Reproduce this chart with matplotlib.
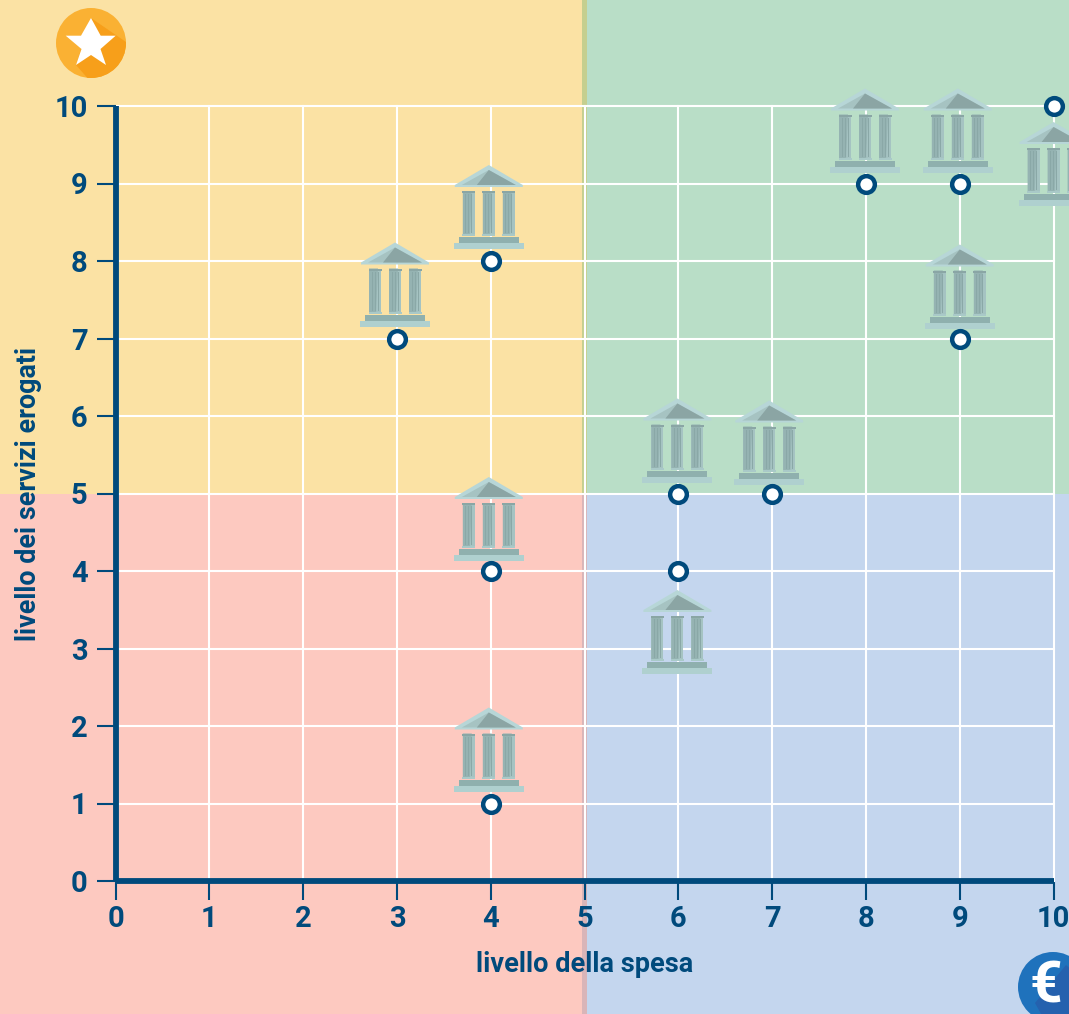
#!/usr/bin/env python3
# -*- coding: utf-8 -*-
import matplotlib
matplotlib.use("Agg")
import matplotlib.pyplot as plt
from matplotlib.patches import Rectangle, Polygon, Circle
from matplotlib.transforms import Affine2D, ScaledTranslation

# data
spesa = [3, 4, 4, 4, 6, 7, 6, 8, 9, 9, 10]
servizi = [7, 8, 4, 1, 5, 5, 4, 9, 9, 7, 10]
ticks = [0, 1, 2, 3, 4, 5, 6, 7, 8, 9, 10]
x_title = "livello della spesa"
y_title = "livello dei servizi erogati"

# where each icon sits relative to its point, in pixels
icon_dx = [-2, -2, -2, -2, -1, -3, -1, -1, -2, 0, 0]
icon_dy = [12, 12, 10, 12, 11, 9, -103, 11, 11, 10, -100]

W, H = 1069, 1014
NAVY = "#004A7C"
plt.rcParams["font.family"] = ["Roboto", "DejaVu Sans"]
plt.rcParams["font.weight"] = "bold"

fig = plt.figure(figsize=(W / 100, H / 100), dpi=100)
ax = fig.add_axes([115.6 / W, (H - 881) / H, 938 / W, 775 / H])
ax.set_xlim(0, 10)
ax.set_ylim(0, 10)
ax.patch.set_visible(False)

# pixel coordinates with the origin top left
px = Affine2D().scale(1, -1).translate(0, H)

# coloured quadrants
for x0, y0, w, h, col in [
    (0, 0, 585, 494, "#FBE2A4"),
    (585, 0, W - 585, 494, "#B9DEC7"),
    (0, 494, 585, H - 494, "#FDC9C0"),
    (585, 494, W - 585, H - 494, "#C4D6EE"),
    (582, 0, 5, 494, "#C5CF8F"),
    (582, 494, 5, H - 494, "#D9B5B8"),
]:
    fig.add_artist(Rectangle((x0, y0), w, h, transform=px, fc=col, ec="none", zorder=-2))

# grid and axes
ax.set_xticks(ticks)
ax.set_yticks(ticks)
ax.grid(True, color="white", linewidth=1.5, zorder=1)
ax.set_axisbelow(True)
for line in ax.get_xgridlines() + ax.get_ygridlines():
    line.set_clip_on(False)
for side in ["top", "right"]:
    ax.spines[side].set_visible(False)
for side in ["left", "bottom"]:
    ax.spines[side].set_linewidth(4.2)
    ax.spines[side].set_color(NAVY)
    ax.spines[side].set_zorder(2)
    ax.spines[side].set_capstyle("butt")
ax.tick_params(axis="both", length=13.7, width=1.5, color=NAVY, labelcolor=NAVY, labelsize=21)
ax.tick_params(axis="x", pad=3.5)
ax.tick_params(axis="y", pad=6.5)
ax.set_xlabel(x_title, fontsize=19.5, color=NAVY, fontweight="bold", va="center")
ax.set_ylabel(y_title, fontsize=19.4, color=NAVY, fontweight="bold", va="center")
ax.xaxis.set_label_coords(0.5, -(965 - 881) / 775)
ax.yaxis.set_label_coords((29 - 116) / 938, 0.5)


def draw_icon(x, y, dx, dy):
    """Temple icon; local pixels from the middle of the base, y upwards."""
    tr = Affine2D().translate(dx, dy) + ScaledTranslation(x, y, ax.transData)

    def poly(points, col):
        ax.add_patch(Polygon(points, closed=True, transform=tr, fc=col, ec="none",
                             zorder=3, clip_on=False))

    # roof
    poly([(-34, 62), (-34, 64), (0, 84), (34, 64), (34, 62)], "#B7D6D7")
    poly([(-27, 64), (0, 79), (27, 64)], "#A6C3C2")
    poly([(-12, 64), (0, 79), (27, 64)], "#8BA5A4")
    # columns
    for cx in (-20, 0, 20):
        poly([(cx - 6, 13), (cx - 6, 58), (cx + 6, 58), (cx + 6, 13)], "#A5C3C2")
        poly([(cx - 6, 13), (cx - 6, 58), (cx + 3, 58), (cx + 1, 13)], "#95B3B2")
        for sx in (-3, 0, 3):
            poly([(cx + sx - 0.5, 16), (cx + sx - 0.5, 55), (cx + sx + 0.5, 55), (cx + sx + 0.5, 16)],
                 "#8AA8A7")
        poly([(cx - 6.5, 56), (cx - 6.5, 58), (cx + 6.5, 58), (cx + 6.5, 56)], "#8AA6A5")
        poly([(cx - 6.5, 13), (cx - 6.5, 15), (cx + 6.5, 15), (cx + 6.5, 13)], "#A9C9C8")
    # steps
    poly([(-30, 6), (-30, 12), (30, 12), (30, 6)], "#8FB0AE")
    poly([(-35, 0), (-35, 6), (35, 6), (35, 0)], "#AFD0CF")


for xi, yi, dxi, dyi in zip(spesa, servizi, icon_dx, icon_dy):
    draw_icon(xi, yi, dxi, dyi)

ax.scatter(spesa, servizi, s=145, facecolor="white", edgecolor=NAVY, linewidth=3.2,
           zorder=4, clip_on=False)

# star badge
fig.add_artist(Circle((91, 43), 35, transform=px, fc="#FAB133", ec="none", zorder=5))
shadow = Polygon([(91, 18), (126, 42), (126, 90), (91, 82), (76, 65)], closed=True,
                 transform=px, fc="#F79F1A", ec="none", zorder=6)
fig.add_artist(shadow)
shadow.set_clip_path(Circle((91, 43), 35, transform=px))
fig.add_artist(Polygon([(91, 18), (100.7, 35.7), (115.7, 35.7), (100.5, 49), (106, 65), (91, 55),
                        (76, 65), (81.5, 49), (65.7, 35.7), (81, 35.7)], closed=True,
                       transform=px, fc="white", ec="none", zorder=7))

# euro badge
fig.add_artist(Circle((1053, 987), 35, transform=px, fc="#1F72BC", ec="none", zorder=5))
euro_shadow = Polygon([(1066, 965), (1090, 985), (1090, 1030), (1050, 1030), (1035, 1003)],
                      closed=True, transform=px, fc="#2561AE", ec="none", zorder=6)
fig.add_artist(euro_shadow)
euro_shadow.set_clip_path(Circle((1053, 987), 35, transform=px))
fig.text(1046 / W, (H - 987) / H, "\u20ac", color="white", fontsize=41, fontweight="bold",
         ha="center", va="center", zorder=7)

fig.savefig("out.png", dpi=100)
